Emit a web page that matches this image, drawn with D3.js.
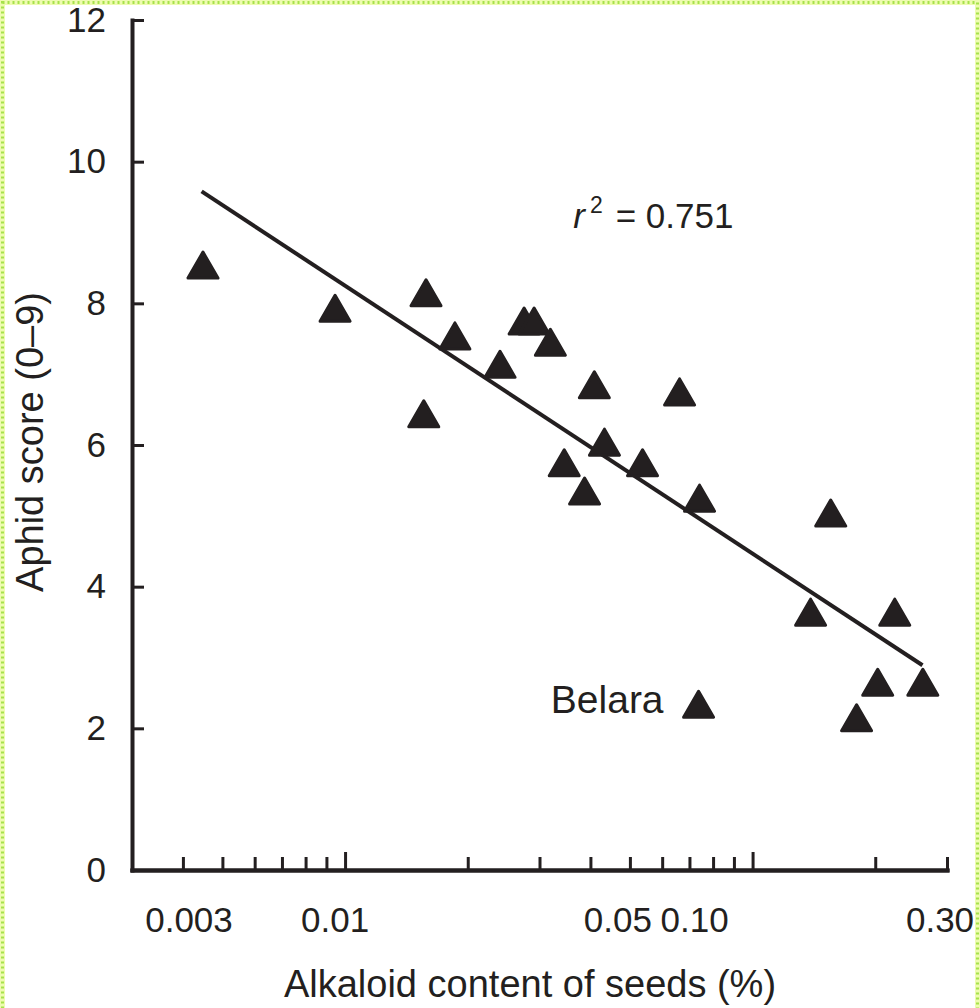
<!DOCTYPE html>
<html>
<head>
<meta charset="utf-8">
<script src="https://cdn.jsdelivr.net/npm/d3@7"></script>
<style>
  body { margin: 0; background: #fff; }
  svg { display: block; }
  text { font-family: "Liberation Sans", Arial, sans-serif; fill: #231f20; }
</style>
</head>
<body>
<div id="chart"></div>
<script>
/* ------------------------- Data ------------------------- */
/* Alkaloid content of seeds (%) and aphid score per cultivar */
var alkaloid = [0.00448, 0.00945, 0.0158, 0.0186, 0.0240, 0.0156, 0.0275, 0.0291,
                0.0319, 0.0409, 0.0662, 0.0433, 0.0345, 0.0537, 0.0387, 0.0741,
                0.1555, 0.1388, 0.2233, 0.2028, 0.2617, 0.0737, 0.180];
var aphid = [8.54, 7.93, 8.15, 7.54, 7.14, 6.44, 7.75, 7.75,
             7.45, 6.85, 6.75, 6.04, 5.75, 5.75, 5.35, 5.25,
             5.04, 3.64, 3.64, 2.65, 2.65, 2.34, 2.15];
var names = ["", "", "", "", "", "", "", "", "", "", "", "", "", "", "", "",
             "", "", "", "", "", "Belara", ""];

/* Fitted line end points */
var fitX = [0.004446, 0.2612];
var fitY = [9.58, 2.89];

/* Tick values */
var xMajor = [0.01, 0.1];
var xMinor = [0.004, 0.005, 0.006, 0.007, 0.008, 0.009,
              0.02, 0.03, 0.04, 0.05, 0.06, 0.07, 0.08, 0.09, 0.2, 0.3];
var xLabels = [0.003, 0.01, 0.05, 0.10, 0.30];
var xLabelText = ["0.003", "0.01", "0.05", "0.10", "0.30"];
var yTicks = [0, 2, 4, 6, 8, 10, 12];

var xTitle = "Alkaloid content of seeds (%)",
    yTitle = "Aphid score (0\u20139)";

/* ------------------------- Layout ------------------------- */
var W = 980, H = 1008,
    margin = {top: 20, left: 132},
    width = 815,
    height = 850,
    ink = "#231f20",
    tickFont = 35,
    titleFont = 38;

var svg = d3.select("#chart").append("svg")
    .attr("width", W)
    .attr("height", H);

/* dotted frame (bottom edge falls outside the picture) */
svg.append("rect")
    .attr("x", 2.5).attr("y", 2.5)
    .attr("width", W - 5).attr("height", H + 10)
    .attr("fill", "#fff")
    .attr("stroke", "#eefbb0")
    .attr("stroke-width", 5);
svg.append("rect")
    .attr("x", 2.5).attr("y", 2.5)
    .attr("width", W - 5).attr("height", H + 10)
    .attr("fill", "none")
    .attr("stroke", "#a6e24a")
    .attr("stroke-width", 3)
    .attr("stroke-dasharray", "2,3");

var chart = svg.append("g")
    .attr("transform", "translate(" + margin.left + "," + margin.top + ")");

var x = d3.scaleLog().domain([0.003, 0.3]).range([0, width]);
var y = d3.scaleLinear().domain([0, 12]).range([height, 0]);

/* ------------------------- Axes ------------------------- */
var yAxis = d3.axisLeft(y)
    .tickValues(yTicks)
    .tickFormat(d3.format("d"))
    .tickSizeInner(-12)
    .tickSizeOuter(0)
    .tickPadding(26);

var gy = chart.append("g").call(yAxis);
gy.selectAll("text").attr("font-size", tickFont).style("font-family", "Liberation Sans, Arial, sans-serif").attr("fill", ink);

var gxMinor = chart.append("g")
    .attr("transform", "translate(0," + height + ")")
    .call(d3.axisBottom(x).tickValues(xMinor).tickFormat("").tickSizeInner(-13).tickSizeOuter(0));
var gxMajor = chart.append("g")
    .attr("transform", "translate(0," + height + ")")
    .call(d3.axisBottom(x).tickValues(xMajor).tickFormat("").tickSizeInner(-18).tickSizeOuter(0));

chart.selectAll(".domain").attr("stroke", ink).attr("stroke-width", 4).attr("stroke-linecap", "square");
chart.selectAll(".tick line").attr("stroke", ink).attr("stroke-width", 3);

/* x tick labels sit slightly off their ticks, as in the printed figure */
var labelShift = [57, -10, -12, -58, -7];
chart.append("g").selectAll("text")
    .data(xLabels)
    .enter().append("text")
    .attr("x", function(d, i) { return x(d) + labelShift[i]; })
    .attr("y", height + 62)
    .attr("text-anchor", "middle")
    .attr("font-size", tickFont)
    .text(function(d, i) { return xLabelText[i]; });

/* axis titles */
svg.append("text")
    .attr("x", 530)
    .attr("y", 997)
    .attr("text-anchor", "middle")
    .attr("font-size", titleFont)
    .text(xTitle);

svg.append("text")
    .attr("transform", "translate(43," + (margin.top + height / 2 - 3) + ")rotate(-90)")
    .attr("text-anchor", "middle")
    .attr("font-size", titleFont)
    .text(yTitle);

/* ------------------------- Marks ------------------------- */
var line = d3.line()
    .x(function(d) { return x(d[0]); })
    .y(function(d) { return y(d[1]); });

chart.append("path")
    .datum(d3.zip(fitX, fitY))
    .attr("fill", "none")
    .attr("stroke", ink)
    .attr("stroke-width", 4)
    .attr("d", line);

var tri = "M0,-13L15,13L-15,13Z";
chart.append("g").selectAll("path")
    .data(d3.range(alkaloid.length))
    .enter().append("path")
    .attr("transform", function(i) { return "translate(" + x(alkaloid[i]) + "," + y(aphid[i]) + ")"; })
    .attr("d", tri)
    .attr("fill", ink)
    .attr("stroke", ink)
    .attr("stroke-width", 3)
    .attr("stroke-linejoin", "round");

/* point label */
chart.append("g").selectAll("text")
    .data(d3.range(alkaloid.length).filter(function(i) { return names[i]; }))
    .enter().append("text")
    .attr("x", function(i) { return x(alkaloid[i]) - 35; })
    .attr("y", function(i) { return y(aphid[i]) + 9; })
    .attr("text-anchor", "end")
    .attr("font-size", 39)
    .text(function(i) { return names[i]; });

/* r squared note */
var note = chart.append("text")
    .attr("x", x(0.0363))
    .attr("y", y(9.06))
    .attr("font-size", tickFont);
note.append("tspan").attr("font-style", "italic").text("r");
note.append("tspan").attr("font-size", 23).attr("dy", -15).attr("dx", 5).text("2");
note.append("tspan").attr("dy", 15).attr("dx", 13).text("= 0.751");
</script>
</body>
</html>
